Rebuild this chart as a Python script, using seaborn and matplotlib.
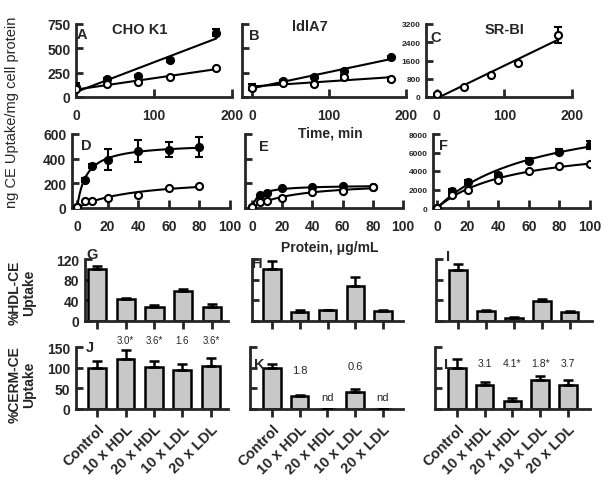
import numpy as np
import matplotlib
matplotlib.use("Agg")
import matplotlib.pyplot as plt
import seaborn as sns

# ---- data ----
time = [0, 40, 80, 120, 180]
a_filled = [100, 185, 216, 380, 660]
a_filled_err = [40, 15, 15, 20, 35]
a_open = [80, 134, 154, 206, 298]
b_filled = [100, 164, 205, 267, 410]
b_filled_err = [30, 10, 10, 15, 15]
b_open = [95, 144, 134, 205, 185]
b_open_err = [0, 0, 0, 20, 25]
c_open = [130, 450, 960, 1470, 2720]
c_open_err = [0, 0, 0, 0, 350]

prot_de = [0, 5, 10, 20, 40, 60, 80]
d_filled = [5, 227, 343, 392, 460, 473, 492]
d_filled_err = [0, 15, 15, 85, 90, 60, 80]
d_open = [5, 60, 60, 81, 105, 160, 181]
e_filled = [5, 105, 121, 160, 168, 181, 168]
e_open = [5, 46, 60, 81, 127, 140, 168]
prot_f = [0, 10, 20, 40, 60, 80, 100]
f_filled = [0, 1870, 2840, 3570, 5120, 6090, 6810]
f_filled_err = [0, 200, 200, 200, 250, 300, 400]
f_open = [0, 1400, 1980, 3060, 4030, 4500, 4750]

cats = ["Control", "10 x HDL", "20 x HDL", "10 x LDL", "20 x LDL"]
g_val = [100, 42, 28, 58, 28]
g_err = [6, 2, 3, 3, 4]
h_val = [100, 17, 21, 67, 20]
h_err = [16, 5, 1, 18, 2]
i_val = [99, 20, 6, 39, 17]
i_err = [11, 1, 1, 3, 2]
j_val = [100, 122, 102, 95, 103]
j_err = [17, 20, 13, 15, 20]
k_val = [100, 32, 0, 42, 0]
k_err = [10, 3, 0, 6, 0]
l_val = [100, 57, 20, 71, 57]
l_err = [20, 9, 7, 8, 12]
j_notes = ["", "3.0*", "3.6*", "1.6", "3.6*"]
k_notes = ["", "1.8", "nd", "0.6", "nd"]
l_notes = ["", "3.1", "4.1*", "1.8*", "3.7"]

sns.set_style("ticks")
plt.rcParams['font.family'] = ['Liberation Sans', 'DejaVu Sans']
plt.rcParams['font.weight'] = 'bold'

W, H = 610, 485
fig = plt.figure(figsize=(W / 100, H / 100), dpi=100)


def add_ax(l, t, w, h):
    return fig.add_axes([l / W, 1 - (t + h) / H, w / W, h / H])


def style(ax, xdir="in", lsize=10, xpad=8):
    for s in ["top", "right"]:
        ax.spines[s].set_visible(False)
    for s in ["left", "bottom"]:
        ax.spines[s].set_linewidth(2)
    ax.tick_params(axis="y", direction="in", length=5, width=2, labelsize=lsize, pad=4)
    ax.tick_params(axis="x", direction=xdir, length=6, width=2, labelsize=lsize, pad=xpad)
    for lab in ax.get_xticklabels() + ax.get_yticklabels():
        lab.set_fontweight("bold")


def hyper_fit(x, y):
    x = np.asarray(x, float)
    y = np.asarray(y, float)
    best = None
    for kd in np.linspace(0.5, 400, 4000):
        f = x / (kd + x)
        bmax = (f * y).sum() / (f * f).sum()
        sse = ((y - bmax * f) ** 2).sum()
        if best is None or sse < best[0]:
            best = (sse, kd, bmax)
    xs = np.linspace(0, x.max(), 200)
    return xs, best[2] * xs / (best[1] + xs)


def points(ax, x, y, err, filled):
    if err is not None:
        ax.errorbar(x, y, yerr=err, fmt="none", ecolor="black", elinewidth=1.5,
                    capsize=3, capthick=1.5, zorder=3)
    sns.scatterplot(x=x, y=y, ax=ax, s=26, color="black" if filled else "white",
                    edgecolor="black", linewidth=1.5, zorder=4, legend=False)


def lin_line(ax, x, y):
    m, b = np.polyfit(x, y, 1)
    x0 = max(0, -b / m)
    xs = np.array([x0, max(x)])
    sns.lineplot(x=xs, y=m * xs + b, ax=ax, color="black", lw=1.5, zorder=2)


# ---- row 1: time course ----
axA = add_ax(76, 25, 156, 73)
lin_line(axA, time, a_filled)
lin_line(axA, time, a_open)
points(axA, time, a_filled, a_filled_err, True)
points(axA, time, a_open, None, False)
axA.set_xlim(0, 200); axA.set_ylim(0, 750)
axA.set_xticks([0, 100, 200]); axA.set_yticks([0, 250, 500, 750])

axB = add_ax(242, 25, 164, 73)
lin_line(axB, time, b_filled)
lin_line(axB, time, b_open)
points(axB, time, b_filled, b_filled_err, True)
points(axB, time, b_open, b_open_err, False)
axB.set_xlim(-13, 200); axB.set_ylim(0, 750)
axB.set_xticks([0, 100, 200]); axB.set_yticks([0, 250, 500, 750])
axB.set_yticklabels([])

axC = add_ax(426, 25, 146, 73)
lin_line(axC, time, c_open)
points(axC, time, c_open, c_open_err, False)
axC.set_xlim(-16, 200); axC.set_ylim(0, 3200)
axC.set_xticks([0, 100, 200]); axC.set_yticks([0, 800, 1600, 2400, 3200])

# ---- row 2: concentration ----
axD = add_ax(72, 135, 158, 74)
for yv in (d_filled, d_open):
    xs, ys = hyper_fit(prot_de, yv)
    sns.lineplot(x=xs, y=ys, ax=axD, color="black", lw=1.5, zorder=2)
points(axD, prot_de, d_filled, d_filled_err, True)
points(axD, prot_de, d_open, None, False)
axD.set_xlim(-3.3, 100); axD.set_ylim(0, 600)
axD.set_xticks([0, 20, 40, 60, 80, 100]); axD.set_yticks([0, 200, 400, 600])

axE = add_ax(245, 135, 158, 74)
for yv in (e_filled, e_open):
    xs, ys = hyper_fit(prot_de, yv)
    sns.lineplot(x=xs, y=ys, ax=axE, color="black", lw=1.5, zorder=2)
points(axE, prot_de, e_filled, None, True)
points(axE, prot_de, e_open, None, False)
axE.set_xlim(-4.6, 100); axE.set_ylim(0, 600)
axE.set_xticks([0, 20, 40, 60, 80, 100]); axE.set_yticks([0, 200, 400, 600])
axE.set_yticklabels([])

axF = add_ax(433, 135, 157, 74)
for yv in (f_filled, f_open):
    xs, ys = hyper_fit(prot_f, yv)
    sns.lineplot(x=xs, y=ys, ax=axF, color="black", lw=1.5, zorder=2)
points(axF, prot_f, f_filled, f_filled_err, True)
points(axF, prot_f, f_open, None, False)
axF.set_xlim(-2.6, 100); axF.set_ylim(0, 8000)
axF.set_xticks([0, 20, 40, 60, 80, 100]); axF.set_yticks([0, 2000, 4000, 6000, 8000])

for ax in (axA, axB, axD, axE):
    style(ax)
style(axC)
axC.tick_params(axis="y", labelsize=6)
style(axF)
axF.tick_params(axis="y", labelsize=6)


# ---- rows 3-4: bars ----
def bars(rect, vals, errs, xlim, ylim, yticks, ylabels, notes=None, note_y=None,
         show_x=False, lsize=8):
    ax = add_ax(*rect)
    sns.barplot(x=cats, y=vals, ax=ax, color="#c8c8c8", edgecolor="black",
                linewidth=1.8, width=0.63, saturation=1, errorbar=None)
    ax.errorbar(range(len(cats)), vals, yerr=[np.zeros(len(vals)), errs], fmt="none",
                ecolor="black", elinewidth=1.8, capsize=3.5, capthick=1.8, zorder=3)
    ax.set_xlim(*xlim); ax.set_ylim(*ylim)
    ax.set_yticks(yticks)
    style(ax, xdir="out", xpad=3)
    if ylabels:
        ax.set_yticklabels([str(v) for v in yticks], fontweight="bold")
    else:
        ax.set_yticklabels([])
    if show_x:
        ax.set_xticks(range(len(cats)))
        ax.set_xticklabels(cats, rotation=45, ha="right", rotation_mode="anchor",
                           fontsize=10.5, fontweight="bold")
    else:
        ax.set_xticklabels([])
    if notes:
        for i, (n, yy) in enumerate(zip(notes, note_y)):
            if n:
                ax.text(i, yy, n, ha="center", va="center", fontsize=lsize,
                        fontweight="normal", clip_on=False)
    return ax


axG = bars((85, 260, 143, 62), g_val, g_err, (-0.42, 4.56), (0, 120), [0, 40, 80, 120], True)
axH = bars((252, 260, 151, 62), h_val, h_err, (-0.72, 4.72), (0, 120), [0, 40, 80, 120], False)
axI = bars((436, 260, 156, 62), i_val, i_err, (-0.79, 4.8), (0, 120), [0, 40, 80, 120], False)
axJ = bars((76, 348, 152, 62), j_val, j_err, (-0.74, 4.6), (0, 150), [0, 50, 100, 150], True,
           j_notes, [167] * 5, show_x=True, lsize=7)
axK = bars((250, 348, 153, 62), k_val, k_err, (-0.79, 4.72), (0, 150), [0, 50, 100, 150], False,
           k_notes, [0, 94, 29, 104, 29], show_x=True, lsize=8)
axL = bars((435, 348, 155, 62), l_val, l_err, (-0.79, 4.8), (0, 150), [0, 50, 100, 150], False,
           l_notes, [111] * 5, show_x=True, lsize=7.5)

# ---- labels ----
def ftext(x, y, s, **kw):
    fig.text(x / W, 1 - y / H, s, **kw)


ftext(140, 30, "CHO K1", ha="center", va="center", fontsize=10.5, fontweight="bold")
ftext(310, 27, "ldlA7", ha="center", va="center", fontsize=10.5, fontweight="bold")
ftext(505, 30, "SR-BI", ha="center", va="center", fontsize=10.5, fontweight="bold")
for lt, x, y in [("A", 82, 35), ("B", 254, 36), ("C", 436, 38), ("D", 86, 146),
                 ("E", 264, 147), ("F", 443, 146), ("G", 92, 255), ("H", 257, 264),
                 ("I", 448, 257), ("J", 90, 348), ("K", 259, 365), ("L", 449, 365)]:
    ftext(x, y, lt, ha="center", va="center", fontsize=10.5, fontweight="bold")

ftext(330, 133, "Time, min", ha="center", va="center", fontsize=10, fontweight="bold")
ftext(330, 248, "Protein, μg/mL", ha="center", va="center", fontsize=10, fontweight="bold")
ftext(12, 112, "ng CE Uptake/mg cell protein", ha="center", va="center", rotation=90,
      fontsize=10.5, fontweight="normal")
ftext(22, 293, "%HDL-CE\nUptake", ha="center", va="center", rotation=90,
      fontsize=10, fontweight="bold", linespacing=1.1)
ftext(22, 385, "%CERM-CE\nUptake", ha="center", va="center", rotation=90,
      fontsize=10, fontweight="bold", linespacing=1.1)

fig.savefig("out.png", dpi=100)
